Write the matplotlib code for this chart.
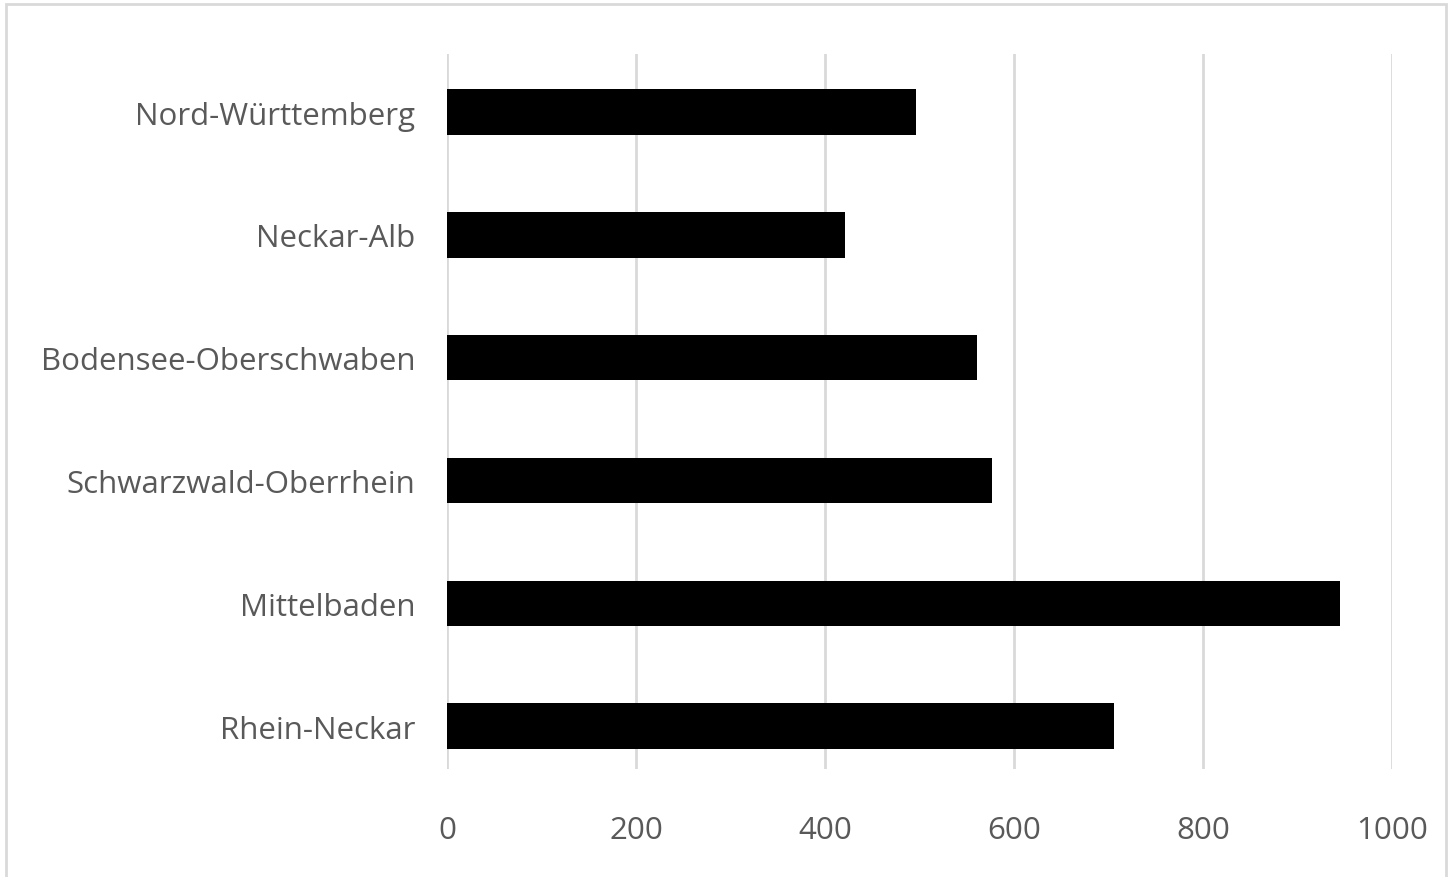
import matplotlib.pyplot as plt
from matplotlib.patches import Rectangle

# Regionen (von oben nach unten) und Werte
regionen = ['Nord-Württemberg', 'Neckar-Alb', 'Bodensee-Oberschwaben',
            'Schwarzwald-Oberrhein', 'Mittelbaden', 'Rhein-Neckar']
werte = [496, 421, 560, 576, 944, 705]
xticks = [0, 200, 400, 600, 800, 1000]

plt.rcParams['font.family'] = ['Open Sans', 'DejaVu Sans']

fig = plt.figure(figsize=(14.52, 8.78), dpi=100)
ax = fig.add_axes([0.308, 0.123, 0.651, 0.814])

pos = list(range(len(regionen)))
ax.barh(pos, werte, height=0.37, color='black', zorder=3)

ax.set_xlim(0, 1000)
ax.set_ylim(5.35, -0.47)
ax.set_xticks(xticks)
ax.set_yticks(pos)
ax.set_yticklabels(regionen)

ax.grid(axis='x', color='#d9d9d9', linewidth=2, zorder=0)
for s in ax.spines.values():
    s.set_visible(False)
ax.tick_params(axis='both', length=0, labelsize=22.5, labelcolor='#595959')
ax.tick_params(axis='y', pad=23)
ax.tick_params(axis='x', pad=33)

# Rahmen um das Diagramm
fig.patches.append(Rectangle((0.004, -0.01), 0.992, 1.004, transform=fig.transFigure,
                             fill=False, edgecolor='#d9d9d9', linewidth=2))

fig.savefig('out.png', dpi=100)
